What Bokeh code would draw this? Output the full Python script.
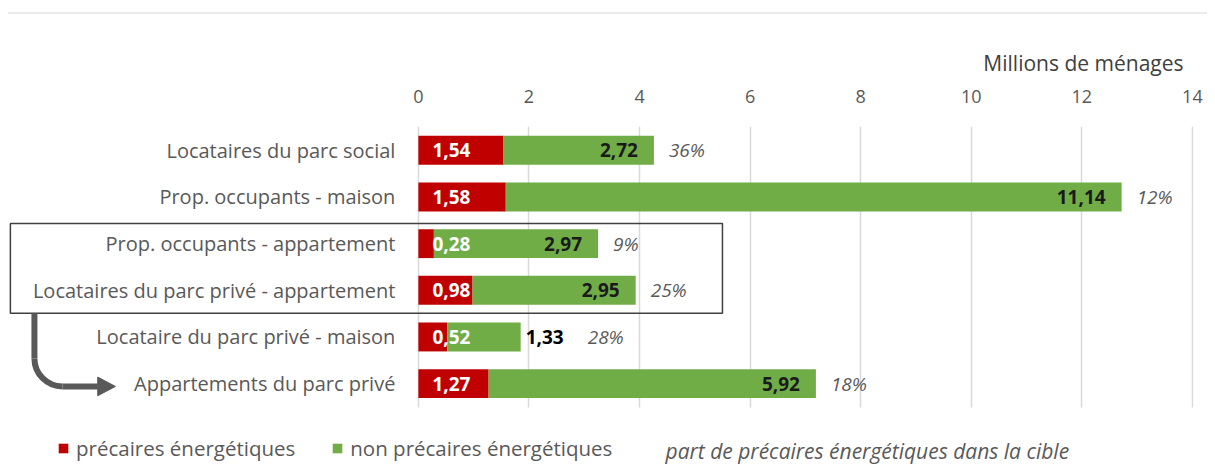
from bokeh.plotting import figure
from bokeh.models import (Range1d, FixedTicker, ColumnDataSource, Label, Legend,
                          LegendItem, Div)
from bokeh.core.properties import value
from bokeh.layouts import column
from bokeh.embed import file_html
from bokeh.resources import INLINE

# ---------------- data ----------------
categories = ["Locataires du parc social",
              "Prop. occupants - maison",
              "Prop. occupants - appartement",
              "Locataires du parc privé - appartement",
              "Locataire du parc privé - maison",
              "Appartements du parc privé"]
precaires = [1.54, 1.58, 0.28, 0.98, 0.52, 1.27]
non_precaires = [2.72, 11.14, 2.97, 2.95, 1.33, 5.92]
parts = ["36%", "12%", "9%", "25%", "28%", "18%"]
x_ticks = [0, 2, 4, 6, 8, 10, 12, 14]

RED = "#C00000"
GREEN = "#70AD47"
GREY = "#595959"
FONT = value("Open Sans")

def fr(v):
    return f"{v:.2f}".replace(".", ",")

ys = list(range(len(categories)))
totals = [a + b for a, b in zip(precaires, non_precaires)]
inside = [b >= 2 for b in non_precaires]

src = ColumnDataSource(dict(
    y=ys, cat=categories, zero=[0] * len(ys),
    red=precaires, total=totals,
    red_txt=[fr(v) for v in precaires],
))
def sub(flag):
    return ColumnDataSource(dict(
        y=[y for y, k in zip(ys, inside) if k == flag],
        total=[t for t, k in zip(totals, inside) if k == flag],
        txt=[fr(v) for v, k in zip(non_precaires, inside) if k == flag],
        pct=[s for s, k in zip(parts, inside) if k == flag],
    ))
src_in = sub(True)
src_out = sub(False)

W, H = 1199, 450
ROW_LO, ROW_HI = -0.51, 5.51
p = figure(width=W, height=H, output_backend="svg", toolbar_location=None,
           x_range=Range1d(-7.414, 14.02), y_range=Range1d(6.733, ROW_LO),
           x_axis_location="above", y_axis_location=None,
           min_border_left=0, min_border_right=14, min_border_top=112,
           min_border_bottom=0, margin=(0, 0, 0, 8))
p.outline_line_color = None
p.background_fill_color = "white"
p.border_fill_color = "white"

ax = p.xaxis[0]
ax.ticker = FixedTicker(ticks=x_ticks)
ax.axis_line_color = None
ax.major_tick_line_color = None
ax.minor_tick_line_color = None
ax.major_label_standoff = 18
ax.major_label_text_font = "Open Sans"
ax.major_label_text_font_size = "18px"
ax.major_label_text_color = GREY

p.xgrid.grid_line_color = "#d9d9d9"
p.xgrid.grid_line_width = 1.5
p.xgrid.cross_bounds = (ROW_LO, ROW_HI)
p.ygrid.visible = False

p.title.text = "Millions de ménages"
p.title.align = "right"
p.title.text_font = "Open Sans"
p.title.text_font_size = "21px"
p.title.text_font_style = "normal"
p.title.text_color = "#404040"
p.title.standoff = 19
p.title.offset = 10

BH = 0.62
r_red = p.hbar(y="y", left="zero", right="red", height=BH, source=src,
               fill_color=RED, line_color=None)
r_green = p.hbar(y="y", left="red", right="total", height=BH, source=src,
                 fill_color=GREEN, line_color=None)

# value labels
p.text(x="zero", y="y", text="red_txt", source=src, x_offset=14,
       text_align="left", text_baseline="middle", text_color="white",
       text_font=FONT, text_font_size="19px", text_font_style="bold")
p.text(x="total", y="y", text="txt", source=src_in, x_offset=-16,
       text_align="right", text_baseline="middle", text_color="#1a1a1a",
       text_font=FONT, text_font_size="19px", text_font_style="bold")
p.text(x="total", y="y", text="txt", source=src_out, x_offset=5,
       text_align="left", text_baseline="middle", text_color="black",
       text_font=FONT, text_font_size="19px", text_font_style="bold")
p.text(x="total", y="y", text="pct", source=src_in, x_offset=15,
       text_align="left", text_baseline="middle", text_color=GREY,
       text_font=FONT, text_font_size="19px", text_font_style="italic")
p.text(x="total", y="y", text="pct", source=src_out, x_offset=67,
       text_align="left", text_baseline="middle", text_color=GREY,
       text_font=FONT, text_font_size="19px", text_font_style="italic")

# category labels
p.text(x="zero", y="y", text="cat", source=src, x_offset=-23,
       text_align="right", text_baseline="middle", text_color=GREY,
       text_font=FONT, text_font_size="20px")

# frame around the two "appartement" rows
p.quad(left=[-7.38], right=[5.50], top=[2 - 0.43], bottom=[3 + 0.49],
       fill_alpha=0, line_color="#404040", line_width=1.5)

# arrow
AX, AY = -6.945, 5.06
VY = AY - 0.6     # end of vertical part
HX = AX + 0.506   # start of horizontal part
p.line(x=[AX, AX], y=[3.49, VY], line_color=GREY, line_width=6)
p.bezier(x0=[AX], y0=[VY], x1=[HX], y1=[AY],
         cx0=[AX], cy0=[VY + 0.55 * (AY - VY)],
         cx1=[HX - 0.55 * (HX - AX)], cy1=[AY],
         line_color=GREY, line_width=6)
p.line(x=[HX, -5.80], y=[AY, AY], line_color=GREY, line_width=6)
p.patch(x=[-5.80, -5.48, -5.80], y=[AY - 0.2, AY, AY + 0.2],
        fill_color=GREY, line_color=GREY)

# legend
legend = Legend(items=[LegendItem(label="précaires énergétiques", renderers=[r_red]),
                       LegendItem(label="non précaires énergétiques", renderers=[r_green])],
                orientation="horizontal", location=(49, 2),
                glyph_width=12, glyph_height=12, label_standoff=7, spacing=36,
                padding=0, margin=0, border_line_color=None,
                background_fill_alpha=0,
                label_text_font="Open Sans", label_text_font_size="20.5px",
                label_text_color=GREY)
p.add_layout(legend)

p.add_layout(Label(x=4.47, y=6.454, text="part de précaires énergétiques dans la cible",
                   text_font="Open Sans", text_font_size="21px",
                   text_font_style="italic", text_color=GREY,
                   text_baseline="middle"))

top_line = Div(text="", width=W, height=2, margin=(12, 0, 0, 8),
               styles={"background-color": "#ebebeb"})
layout = column(top_line, p)

open("out.html", "w").write(file_html(layout, INLINE))
